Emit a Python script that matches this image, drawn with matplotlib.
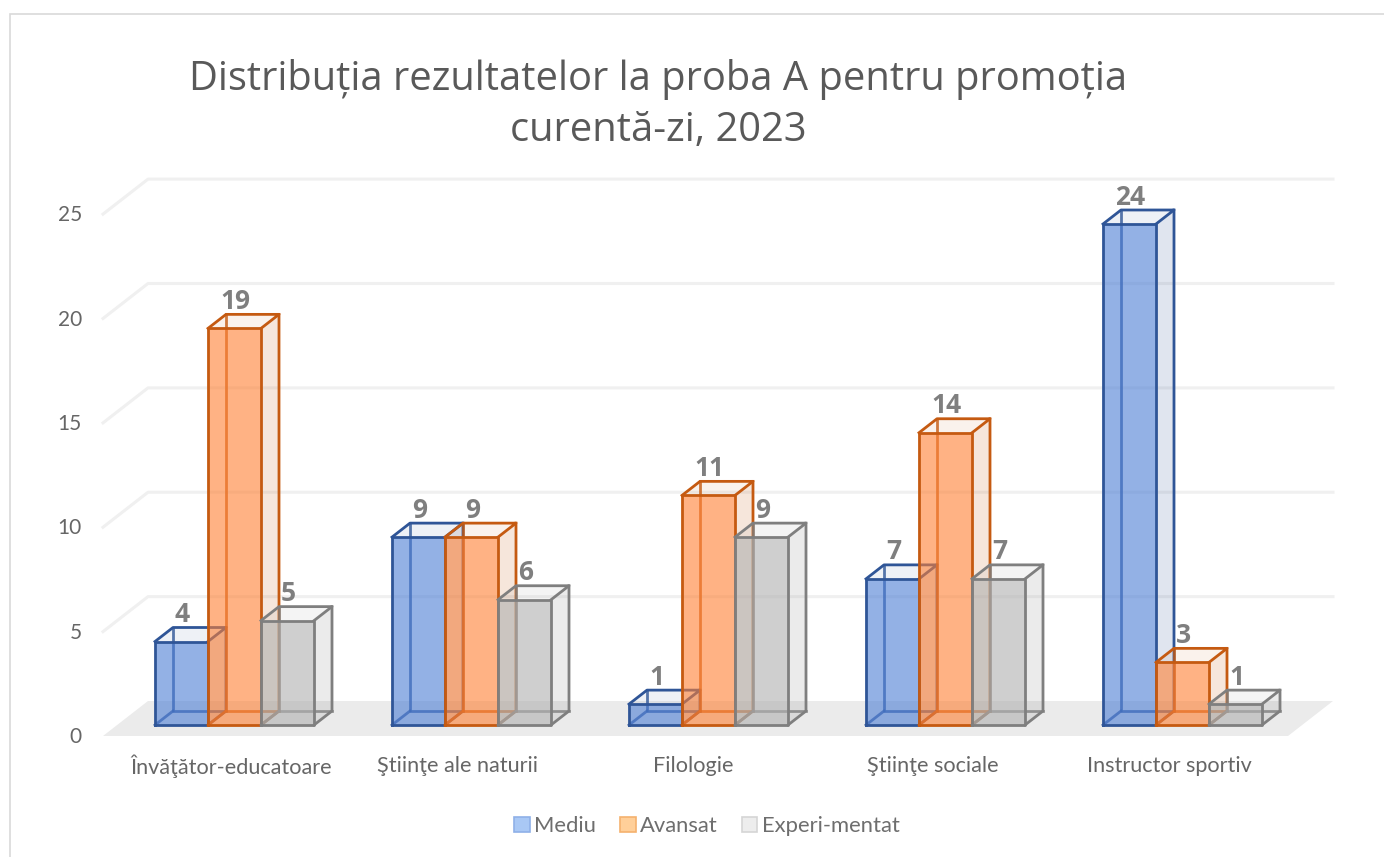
import matplotlib
matplotlib.use("Agg")
from matplotlib import pyplot as plt
from matplotlib.patches import Patch, Rectangle

categories = ["Învăţător-educatoare", "Ştiinţe ale naturii", "Filologie", "Ştiinţe sociale", "Instructor sportiv"]
mediu = [4, 9, 1, 7, 24]
avansat = [19, 9, 11, 14, 3]
experimentat = [5, 6, 9, 7, 1]
y_ticks = [0, 5, 10, 15, 20, 25]
title = "Distribuția rezultatelor la proba A pentru promoția\ncurentă-zi, 2023"

W, H = 1384, 857
# px per category / per value unit, position of first group and of the bar baseline
sx, sy = 237.0, 20.875
x0, y0 = 234.5, 725.0
bar_w = 53 / sx
dx, dy = 18 / sx, 14 / sy      # depth of one bar
fl_x, fl_y = 45 / sx, 35 / sy  # depth of floor and walls
front = -11 / sy               # value 0 on the front edge of the floor
back = front + fl_y
label_shift = [-3, -14, -15, -13, -13]  # px, category labels are not quite under the groups

plt.rcParams['font.family'] = ['Lato', 'DejaVu Sans']
fig = plt.figure(figsize=(W / 100, H / 100), dpi=100)
ax = fig.add_axes([0, 0, 1, 1])
ax.set_xlim(-x0 / sx, (W - x0) / sx)
ax.set_ylim((y0 - H) / sy, y0 / sy)
ax.axis("off")

# chart frame
ax.add_patch(Rectangle((10 / W, -1), 2, (H - 14) / H + 1, transform=ax.transAxes, fill=False, ec="#D9D9D9", lw=1.2, clip_on=True))

# floor
left = (103 - x0) / sx
right = (1288 - x0) / sx
ax.fill([left, left + fl_x, right + fl_x, right], [front, back, back, front], color="#EBEBEB", lw=0, zorder=1)

# walls grid
for v in y_ticks[1:]:
    ax.plot([left, left + fl_x, right + fl_x], [front + v, back + v, back + v], color="#F0F0F0", lw=2.2, zorder=1)

for v in y_ticks:
    ax.text((82 - x0) / sx, front + v + 1 / sy, str(v), ha="right", va="center_baseline", fontsize=15, color="#666666")

for i, c in enumerate(categories):
    ax.text(i + label_shift[i] / sx, (y0 - 766) / sy, c, ha="center", va="center", fontsize=15.6, color="#666666")


def draw_bar(x, v, face, edge, z):
    r = x + bar_w
    # back and inner edges
    ax.plot([x + dx, x + dx, r + dx], [v + dy, dy, dy], color=edge, lw=2, alpha=0.8, zorder=z)
    ax.plot([x, x + dx], [0, dy], color=edge, lw=2, alpha=0.8, zorder=z)
    # side and top
    ax.fill([r, r + dx, r + dx, r], [0, dy, v + dy, v], color=edge, alpha=0.15, lw=0, zorder=z)
    ax.fill([x, x + dx, r + dx, r], [v, v + dy, v + dy, v], color=edge, alpha=0.08, lw=0, zorder=z)
    ax.plot([x, x + dx, r + dx, r], [v, v + dy, v + dy, v], color=edge, lw=2, zorder=z)
    ax.plot([r, r + dx, r + dx], [0, dy, v + dy], color=edge, lw=2, zorder=z)
    # front
    ax.fill([x, r, r, x], [0, 0, v, v], color=face, alpha=0.6, lw=0, zorder=z)
    ax.plot([x, r, r, x, x], [0, 0, v, v, 0], color=edge, lw=2, zorder=z)


series = [
    ("Mediu", mediu, "#4B7DD5", "#2F5597", "#A9C8F5", "#8FB0E8"),
    ("Avansat", avansat, "#FF8033", "#C55A11", "#FFCF99", "#F5B26E"),
    ("Experi-mentat", experimentat, "#AFAFAF", "#7F7F7F", "#EDEDED", "#D5D5D5"),
]

z = 2
for i in range(len(categories)):
    for j, (name, vals, face, edge, _, _) in enumerate(series):
        x = i + (j - 1.5) * bar_w
        draw_bar(x, vals[i], face, edge, z)
        z += 1
for i in range(len(categories)):
    for j, (name, vals, face, edge, _, _) in enumerate(series):
        x = i + (j - 1) * bar_w
        ax.text(x + 1 / sx, vals[i] + 27 / sy, str(vals[i]), ha="center", va="center",
                fontsize=19, fontweight="bold", color="#7F7F7F", zorder=100,
                family=['Open Sans', 'DejaVu Sans'])

handles = [Patch(facecolor=s[4], edgecolor=s[5], lw=1.2, label=s[0]) for s in series]
ax.legend(handles=handles, loc="center", bbox_to_anchor=(707 / W, 1 - 826 / H), ncol=3, frameon=False,
          fontsize=15.8, labelcolor="#6E6E6E", handlelength=0.7, handleheight=0.7, handletextpad=0.2, columnspacing=1.1)

fig.text(658 / W, 1 - 105 / H, title, ha="center", va="center", fontsize=28.7, color="#595959",
         family=['Open Sans', 'DejaVu Sans'], linespacing=1.36)

fig.savefig("out.png", dpi=100)
